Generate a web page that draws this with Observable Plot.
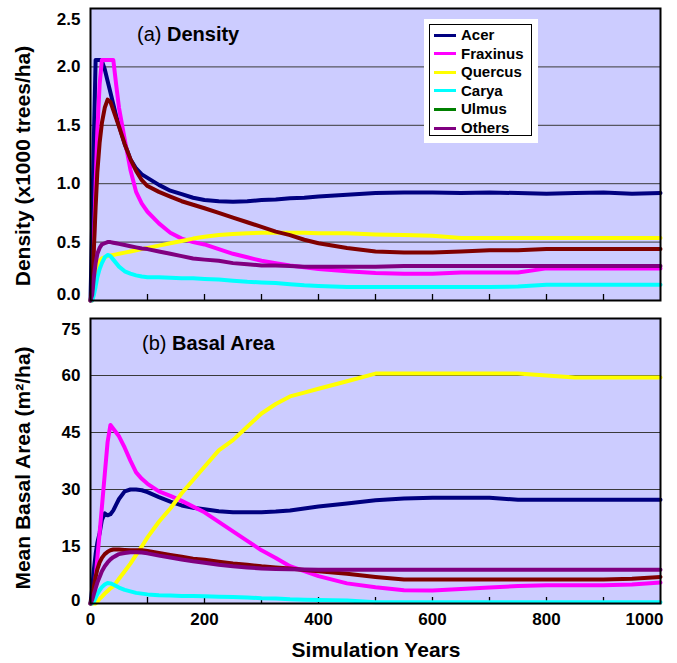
<!DOCTYPE html>
<html><head><meta charset="utf-8">
<script src="https://cdn.jsdelivr.net/npm/d3@7"></script>
<script src="https://cdn.jsdelivr.net/npm/@observablehq/plot@0.6"></script>
<style>
body{margin:0;background:#fff;font-family:"Liberation Sans",Arial,sans-serif;}
#wrap{position:relative;width:677px;height:663px;overflow:hidden;}
#wrap svg{position:absolute;left:0;}
.abs{position:absolute;white-space:nowrap;color:#000;}
.ytitle{font-size:21px;font-weight:bold;line-height:24px;transform:translate(-50%,-50%) rotate(-90deg);}
.ptitle{font-size:20px;line-height:20px;}
.ptitle b{font-weight:bold;}
</style></head><body><div id="wrap"></div>
<script>
const species = ["Acer","Fraxinus","Quercus","Carya","Ulmus","Others"];
const lineColors = ["#000080","#ff00ff","#ffff00","#00ffff","#800000","#800080"];
const legendColors = ["#000080","#ff00ff","#ffff00","#00ffff","#008000","#800080"];

const years = [0,3,6,9,12,16,20,25,30,35,40,45,50,60,70,80,90,100,120,140,160,180,200,225,250,275,300,325,350,375,400,450,500,550,600,650,700,750,800,850,900,950,1000];

// (a) Density (x1000 trees/ha)
const densityAcer = [0,0.7,1.4,2.06,2.06,2.06,2.05,1.98,1.88,1.78,1.68,1.58,1.50,1.34,1.21,1.13,1.08,1.05,0.99,0.94,0.91,0.88,0.86,0.85,0.845,0.85,0.86,0.865,0.875,0.88,0.89,0.905,0.92,0.925,0.925,0.92,0.925,0.92,0.915,0.92,0.925,0.915,0.92];
const densityFraxinus = [0,0,0.5,1.0,1.45,1.85,2.06,2.06,2.06,2.06,2.06,1.85,1.65,1.38,1.12,0.93,0.83,0.76,0.66,0.58,0.53,0.50,0.48,0.44,0.40,0.37,0.34,0.32,0.30,0.285,0.27,0.25,0.235,0.23,0.23,0.24,0.24,0.24,0.275,0.275,0.275,0.275,0.275];
const densityQuercus = [0,0,0.1,0.22,0.30,0.34,0.36,0.37,0.38,0.385,0.39,0.395,0.40,0.41,0.42,0.43,0.44,0.45,0.47,0.49,0.51,0.53,0.545,0.56,0.57,0.575,0.58,0.58,0.58,0.58,0.575,0.575,0.565,0.56,0.555,0.535,0.535,0.535,0.535,0.535,0.535,0.535,0.535];
const densityCarya = [0,0,0.05,0.12,0.20,0.27,0.32,0.37,0.39,0.38,0.35,0.32,0.29,0.25,0.23,0.215,0.205,0.20,0.20,0.195,0.19,0.19,0.185,0.18,0.17,0.16,0.155,0.15,0.14,0.13,0.125,0.115,0.115,0.115,0.115,0.115,0.115,0.12,0.135,0.135,0.135,0.135,0.135];
const densityUlmus = [0,0.1,0.45,0.8,1.1,1.35,1.52,1.65,1.72,1.70,1.63,1.56,1.49,1.34,1.21,1.11,1.03,0.98,0.93,0.89,0.85,0.82,0.79,0.75,0.71,0.67,0.63,0.59,0.56,0.52,0.49,0.45,0.42,0.41,0.41,0.42,0.43,0.43,0.44,0.44,0.44,0.44,0.44];
const densityOthers = [0,0.05,0.2,0.32,0.40,0.45,0.48,0.49,0.50,0.50,0.495,0.49,0.485,0.475,0.465,0.455,0.445,0.44,0.42,0.40,0.38,0.36,0.35,0.34,0.32,0.31,0.30,0.30,0.295,0.29,0.29,0.29,0.29,0.295,0.295,0.295,0.295,0.295,0.295,0.295,0.295,0.295,0.295];

// (b) Mean Basal Area (m2/ha)
const basalAcer = [0,4,9,13,16,18.5,22,23.7,23.2,23.5,24.5,26,27.5,29.5,30,30,29.8,29.3,28,26.8,25.8,25.2,24.8,24.3,24,24,24,24.2,24.5,25,25.5,26.3,27.2,27.6,27.8,27.8,27.8,27.3,27.3,27.3,27.3,27.3,27.3];
const basalFraxinus = [0,0,1.7,6.8,12,18.6,25.4,34,42.5,47,46,45,44,41,37.6,34.5,32.8,31.5,29.5,28.3,27,25.5,24,21.5,19,16.5,14,12,9.8,8.5,7.2,5.3,4.3,3.5,3.4,3.8,4.2,4.6,4.8,4.8,4.8,5.0,5.5];
const basalQuercus = [0,0,0,0,0.5,1.2,1.8,2.6,3.3,4.0,4.5,5.5,6.5,8.5,10.5,12.8,15,17.4,21.5,25,29,32.5,36,40.3,43,46.5,50,52.5,54.5,55.5,56.5,58.5,60.5,60.5,60.5,60.5,60.5,60.5,60,59.5,59.5,59.5,59.5];
const basalCarya = [0,0,0.5,1.5,2.5,3.5,4.3,5.0,5.4,5.3,5.0,4.6,4.2,3.6,3.2,2.8,2.6,2.4,2.2,2.1,2.0,2.0,1.9,1.8,1.7,1.6,1.4,1.3,1.1,1.0,0.9,0.8,0.3,0.3,0.3,0.3,0.3,0.3,0.3,0.3,0.3,0.3,0.3];
const basalUlmus = [0,2,4.5,7,9,10.8,12,13,13.6,14,14.2,14.2,14.2,14.1,14,14,14,13.8,13.3,12.8,12.3,11.8,11.5,11,10.5,10.2,9.8,9.5,9.2,8.8,8.5,7.8,7,6.3,6.3,6.3,6.3,6.3,6.3,6.3,6.3,6.5,7];
const basalOthers = [0,1,2.5,4,5.5,7,8.5,9.8,10.8,11.6,12.2,12.6,13,13.3,13.5,13.5,13.4,13.2,12.6,12.1,11.6,11.1,10.7,10.2,9.8,9.5,9.2,9.1,9.0,8.95,8.9,8.9,8.9,8.9,8.9,8.9,8.9,8.9,8.9,8.9,8.9,8.9,8.9];

const densityTicks = [0,0.5,1,1.5,2,2.5];
const basalTicks = [0,15,30,45,60,75];
const xLabelTicks = [0,200,400,600,800,1000];
const xMinorTicks = [100,200,300,400,500,600,700,800,900];

const densitySeries = [densityAcer,densityFraxinus,densityQuercus,densityCarya,densityUlmus,densityOthers];
const basalSeries = [basalAcer,basalFraxinus,basalQuercus,basalCarya,basalUlmus,basalOthers];
const rowsOf = arrs => species.flatMap((s,i)=>years.map((y,j)=>({series:s,year:y,value:arrs[i][j]})));

function panel(o){
  const frameH = o.height - o.marginTop - o.marginBottom;
  const n = o.yTicks.length;
  const yTop = o.yTicks[n-1];
  const ax = {tickSize:0, tickPadding:10, tickFormat:o.fmt, label:null};
  const marks = [
    Plot.frame({fill:"#ccccff"}),
    Plot.ruleY(o.yTicks.slice(1,-1), {stroke:"#3a3a3a", strokeWidth:1}),
    Plot.tickX(xMinorTicks, {x:d=>d, insetTop:frameH-6, stroke:"#000", strokeWidth:1.3}),
    Plot.line(o.rows, {x:"year", y:"value", z:"series", stroke:"series", strokeWidth:4, strokeLinejoin:"round"}),
    Plot.frame({stroke:"#000", strokeWidth:2}),
    Plot.axisY(o.yTicks.slice(0,1), {...ax, dy:o.zeroDy}),
    Plot.axisY(o.yTicks.slice(1,-1), ax),
    Plot.axisY(o.yTicks.slice(-1), {...ax, dy:11})
  ];
  if (o.xLabels){
    marks.push(Plot.axisX(xLabelTicks.slice(0,-1), {tickSize:0, tickPadding:9, tickFormat:d=>String(d), label:null}));
    marks.push(Plot.axisX(xLabelTicks.slice(-1), {tickSize:0, tickPadding:9, tickFormat:d=>String(d), label:null, dx:-16}));
  }
  const svg = Plot.plot({
    width:677, height:o.height, marginTop:o.marginTop, marginBottom:o.marginBottom, marginLeft:90, marginRight:17,
    x:{domain:[0,1000], axis:null},
    y:{domain:[0,yTop], axis:null},
    color:{domain:species, range:lineColors},
    style:{fontFamily:'"Liberation Sans", Arial, sans-serif', fontSize:"17px", fontWeight:"bold", background:"transparent", color:"#000", overflow:"visible"},
    marks
  });
  svg.style.top = o.top + "px";
  return svg;
}

const wrap = document.getElementById("wrap");
wrap.appendChild(panel({top:0, height:310, marginTop:8, marginBottom:10, yTicks:densityTicks, fmt:d3.format(".1f"), rows:rowsOf(densitySeries), xLabels:false, zeroDy:-6}));
wrap.appendChild(panel({top:310, height:353, marginTop:8, marginBottom:60, yTicks:basalTicks, fmt:d=>String(d), rows:rowsOf(basalSeries), xLabels:true, zeroDy:-3}));

function addDiv(cls, html, css){
  const d = document.createElement("div");
  d.className = "abs " + cls;
  d.innerHTML = html;
  Object.assign(d.style, css);
  wrap.appendChild(d);
  return d;
}
addDiv("ptitle", "(a) <b>Density</b>", {left:"137px", top:"24px"});
addDiv("ptitle", "(b) <b>Basal Area</b>", {left:"142px", top:"333px"});
addDiv("ytitle", "Density (x1000 trees/ha)", {left:"23px", top:"166px"});
addDiv("ytitle", "Mean Basal Area (m²/ha)", {left:"23px", top:"468px"});
addDiv("", "Simulation Years", {left:"376px", top:"650px", transform:"translate(-50%,-50%)", fontSize:"21px", fontWeight:"bold", lineHeight:"24px"});

// legend
const leg = addDiv("", "", {left:"424px", top:"19px", width:"114px", height:"124px", background:"#fff"});
const inner = document.createElement("div");
Object.assign(inner.style, {position:"absolute", left:"5px", top:"5px", width:"103px", height:"112px", border:"1px solid #000", boxSizing:"border-box"});
leg.appendChild(inner);
species.forEach((s,i)=>{
  const cy = 10 + i*18.6;
  const ln = document.createElement("div");
  Object.assign(ln.style, {position:"absolute", left:"4px", top:(cy-1.5)+"px", width:"22px", height:"3px", background:legendColors[i]});
  inner.appendChild(ln);
  const tx = document.createElement("div");
  tx.textContent = s;
  Object.assign(tx.style, {position:"absolute", left:"31px", top:(cy-9)+"px", fontSize:"15px", fontWeight:"bold", lineHeight:"18px", whiteSpace:"nowrap"});
  inner.appendChild(tx);
});
</script></body></html>
